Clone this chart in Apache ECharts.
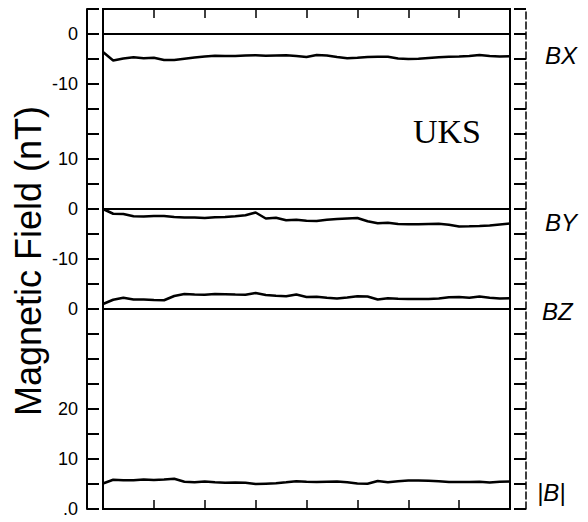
<!DOCTYPE html>
<html>
<head>
<meta charset="utf-8">
<script src="https://cdn.jsdelivr.net/npm/echarts@6/dist/echarts.min.js"></script>
<style>
html,body{margin:0;padding:0;background:#fff;}
#chart{width:588px;height:522px;}
</style>
</head>
<body>
<div id="chart"></div>
<script>
// ---- data ----
const timeSteps = [0,2,4,6,8,10,12,14,16,18,20,22,24,26,28,30,32,34,36,38,40,42,44,46,48,50,52,54,56,58,60,62,64,66,68,70,72,74,76,78,80];
const bxValues = [-3.6,-5.3,-4.9,-4.65,-4.85,-4.75,-5.2,-5.2,-4.95,-4.7,-4.5,-4.36,-4.4,-4.42,-4.3,-4.25,-4.35,-4.3,-4.25,-4.4,-4.6,-4.2,-4.3,-4.6,-4.85,-4.75,-4.6,-4.55,-4.55,-4.9,-5.0,-4.95,-4.8,-4.65,-4.55,-4.5,-4.4,-4.2,-4.4,-4.5,-4.45];
const byValues = [0,-0.95,-1.0,-1.45,-1.5,-1.4,-1.38,-1.6,-1.7,-1.7,-1.8,-1.67,-1.62,-1.45,-1.25,-0.7,-1.9,-1.75,-2.25,-2.15,-2.35,-2.4,-2.15,-2.0,-1.9,-1.8,-2.45,-2.85,-2.75,-3.0,-3.07,-3.05,-3.0,-2.95,-3.15,-3.48,-3.45,-3.38,-3.3,-3.1,-2.9];
const bzValues = [1.0,1.85,2.25,1.88,1.9,1.8,1.75,2.6,3.0,2.9,2.85,3.0,2.95,2.9,2.87,3.2,2.8,2.65,2.55,2.9,2.4,2.45,2.25,2.08,2.3,2.55,2.5,1.9,2.15,2.06,2.0,1.98,2.0,2.1,2.35,2.4,2.25,2.5,2.25,2.08,2.13];
const bMagValues = [5.1,5.85,5.75,5.74,5.92,5.82,5.9,6.04,5.45,5.33,5.5,5.33,5.26,5.3,5.25,5.0,5.07,5.14,5.35,5.57,5.45,5.38,5.45,5.5,5.35,5.1,5.05,5.6,5.35,5.53,5.68,5.7,5.66,5.55,5.4,5.4,5.42,5.46,5.3,5.45,5.48];

const panelNames = ['BX','BY','BZ','|B|'];
const panelMin = [-15,-10,-10,0];
const panelMax = [5,20,10,30];
const panelHasZeroLine = [true,true,true,false];

const frameTickPositions = [0,10,20,40,50,60,70,85,95];
const frameTickLabels = ['.0','10','20','0','-10','0','10','-10','0'];

const yTitle = 'Magnetic Field (nT)';
const stationName = 'UKS';

// ---- layout ----
const W = 588, H = 522;
const plotLeft = 103, plotRight = 510, plotTop = 9;
const pxPerUnit = 5;
const totalUnits = panelMax.reduce((s,m,i)=>s+(m-panelMin[i]),0);
const plotBottom = plotTop + totalUnits*pxPerUnit;
const labelPos = [
  {x:545,y:55},{x:545,y:222},{x:542,y:311},{x:537,y:492}
];

const allValues = [bxValues,byValues,bzValues,bMagValues];

const grids = [{left:plotLeft,right:W-plotRight,top:plotTop,height:plotBottom-plotTop,
  show:true,borderColor:'#000',borderWidth:2,backgroundColor:'transparent'}];
const xAxes = [
  {gridIndex:0,type:'value',position:'bottom',min:0,max:80,interval:10,
   axisLine:{show:true,onZero:false,lineStyle:{color:'#000',width:2}},
   axisTick:{show:true,inside:true,length:9,lineStyle:{color:'#000',width:1.5}},
   axisLabel:{show:false},splitLine:{show:false}},
  {gridIndex:0,type:'value',position:'top',min:0,max:80,interval:10,
   axisLine:{show:true,onZero:false,lineStyle:{color:'#000',width:2}},
   axisTick:{show:true,inside:true,length:9,lineStyle:{color:'#000',width:1.5}},
   axisLabel:{show:false},splitLine:{show:false}}
];
const yAxes = [
  {gridIndex:0,type:'value',position:'left',offset:16,min:0,max:totalUnits,interval:5,
   axisLine:{show:true,onZero:false,lineStyle:{color:'#000',width:2}},
   axisTick:{show:true,inside:true,length:12,lineStyle:{color:'#000',width:2}},
   axisLabel:{show:true,margin:9,color:'#000',fontSize:18,fontFamily:'Liberation Sans',
     formatter:function(v){const k=frameTickPositions.indexOf(Math.round(v));return k>=0?frameTickLabels[k]:'';}},
   splitLine:{show:false}},
  {gridIndex:0,type:'value',position:'right',offset:16,min:0,max:totalUnits,interval:5,
   axisLine:{show:true,onZero:false,lineStyle:{color:'#000',width:1.5,type:[7,3]}},
   axisTick:{show:true,inside:true,length:12,lineStyle:{color:'#000',width:2}},
   axisLabel:{show:false},splitLine:{show:false}}
];
const series = [];
let curTop = plotTop;
panelNames.forEach((name,i)=>{
  const h = (panelMax[i]-panelMin[i])*pxPerUnit;
  grids.push({left:plotLeft,right:W-plotRight,top:curTop,height:h,show:false});
  curTop += h;
  xAxes.push({gridIndex:i+1,type:'value',min:0,max:80,show:false});
  yAxes.push({gridIndex:i+1,type:'value',min:panelMin[i],max:panelMax[i],show:false});
  const s = {
    name:name,type:'line',xAxisIndex:i+2,yAxisIndex:i+2,
    data:timeSteps.map((t,j)=>[t,allValues[i][j]]),
    showSymbol:false,symbol:'none',smooth:false,
    lineStyle:{color:'#000',width:2.5},
    silent:true
  };
  if(panelHasZeroLine[i]){
    s.markLine = {silent:true,symbol:['none','none'],label:{show:false},
      lineStyle:{color:'#000',width:2,type:'solid'},data:[{yAxis:0}]};
  }
  series.push(s);
});

const graphics = [
  {type:'text',x:28,y:(plotTop+plotBottom)/2+2,rotation:Math.PI/2,
   style:{text:yTitle,fill:'#000',font:'36px "Liberation Sans"',textAlign:'center',textVerticalAlign:'middle'}},
  {type:'text',x:447,y:131,
   style:{text:stationName,fill:'#000',font:'34px "Liberation Serif"',textAlign:'center',textVerticalAlign:'middle'}}
];
panelNames.forEach((name,i)=>{
  graphics.push({type:'text',x:labelPos[i].x,y:labelPos[i].y,
    style:{text:name,fill:'#000',font:'italic 24px "Liberation Sans"',textAlign:'left',textVerticalAlign:'middle'}});
});

const chart = echarts.init(document.getElementById('chart'),null,{renderer:'svg',width:W,height:H});
chart.setOption({
  animation:false,
  backgroundColor:'#fff',
  grid:grids,xAxis:xAxes,yAxis:yAxes,series:series,graphic:graphics
});
</script>
</body>
</html>
